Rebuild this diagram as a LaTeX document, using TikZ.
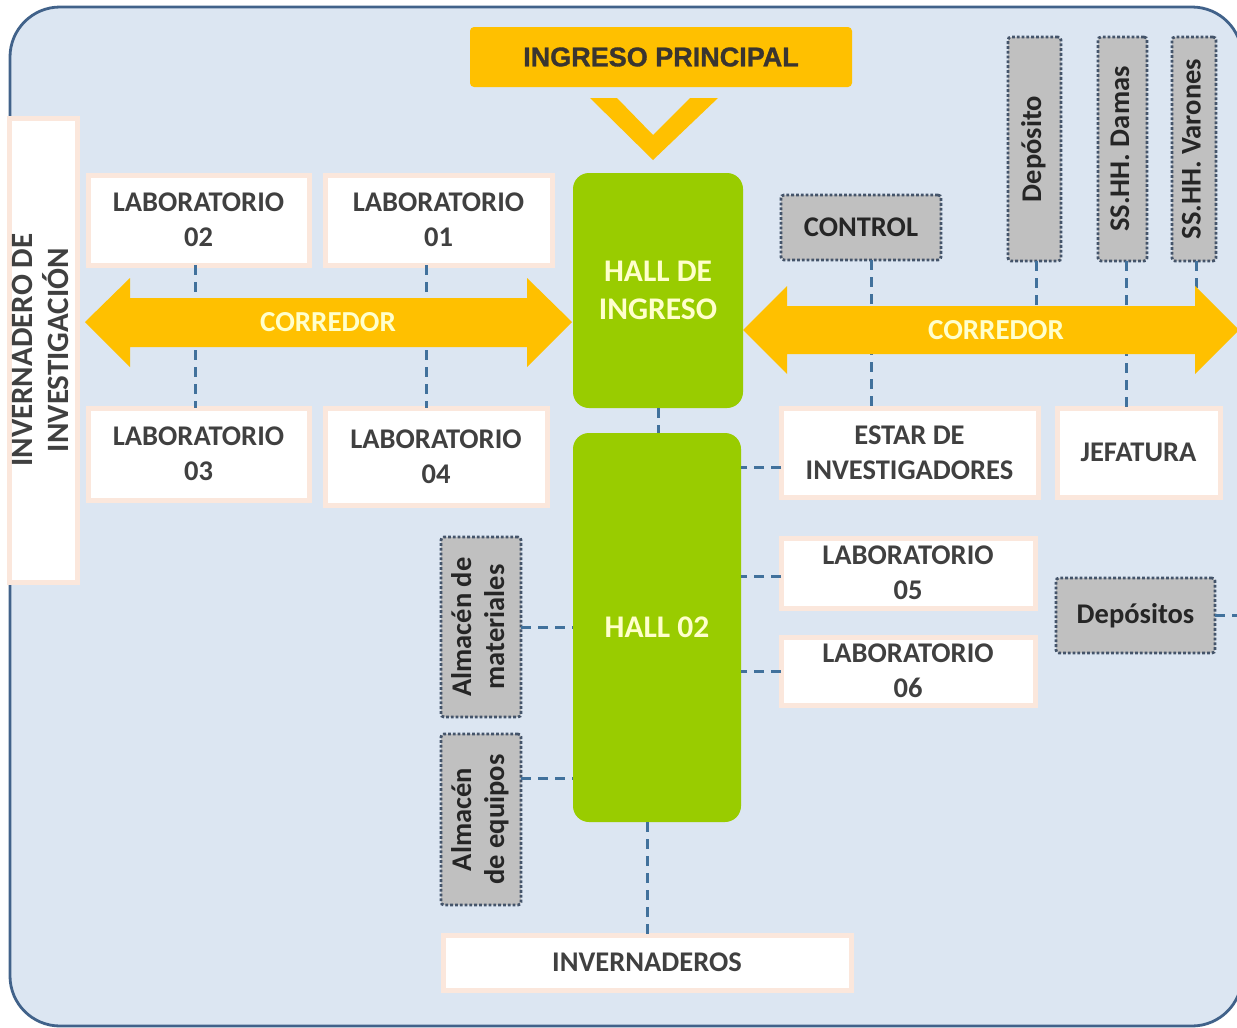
\documentclass[tikz,border=0pt]{standalone}
\usepackage{fontspec}
\usepackage{graphicx}
\setmainfont{Carlito}
\newfontfamily\headfont[BoldFeatures={FakeBold=1.2}]{Liberation Sans}
\definecolor{panel}{HTML}{DCE6F2}
\definecolor{panelline}{HTML}{41628A}
\definecolor{amber}{HTML}{FFC000}
\definecolor{leaf}{HTML}{99CC00}
\definecolor{leaftext}{HTML}{FFFFCC}
\definecolor{peach}{HTML}{FBE7DC}
\definecolor{ink}{HTML}{404040}
\definecolor{darkink}{HTML}{262626}
\definecolor{headink}{HTML}{3A3530}
\definecolor{store}{HTML}{C0C0C0}
\definecolor{slate}{HTML}{44546A}
\definecolor{linkblue}{HTML}{41719C}
\newcommand{\vtext}[1]{\rotatebox{90}{\begin{tabular}{@{}c@{}}#1\end{tabular}}}
\begin{document}
\begin{tikzpicture}[x=1pt,y=-1pt,
  every node/.style={inner sep=0pt, outer sep=0pt},
  frame/.style={fill=panel, draw=panelline, line width=2.8pt, rounded corners=50pt},
  whitebox/.style={fill=white, draw=peach, line width=5pt, text=ink, align=center,
    font=\fontsize{28.5}{35}\selectfont\bfseries},
  storebox/.style={fill=store, draw=slate, line width=2.8pt, dash pattern=on 2.8pt off 2pt,
    rounded corners=3pt, text=darkink, font=\fontsize{28.5}{33}\selectfont\bfseries},
  hallbox/.style={fill=leaf, rounded corners=16pt, text=leaftext, align=center,
    font=\fontsize{31.5}{38}\selectfont\bfseries},
  link/.style={draw=linkblue, line width=3pt, dash pattern=on 10pt off 7pt},
  corridor/.style={fill=amber},
  corrtext/.style={text=leaftext, font=\fontsize{29}{34}\selectfont\bfseries}
]
\useasboundingbox (0,0) rectangle (1237,1028);
\begin{scope}
  \clip (0,0) rectangle (1237,1028);
  \draw[frame] (10,7) rectangle (1242,1026);
\end{scope}

% main entrance and its chevron
\node[fill=amber, rounded corners=4pt, minimum width=382pt, minimum height=60pt,
  text=headink, font=\headfont\fontsize{27}{30}\selectfont\bfseries] (ingreso) at (661,57) {INGRESO PRINCIPAL};
\fill[amber] (590,98) -- (617,98) -- (653,135) -- (690,98) -- (718,98) -- (653,160) -- cycle;

% halls
\node[hallbox, minimum width=170pt, minimum height=235pt] (hall1) at (658,290.5) {HALL DE\\INGRESO};
\node[hallbox, minimum width=168pt, minimum height=389pt] (hall2) at (657,627.5) {HALL 02};

% west wing
\node[whitebox, minimum width=67pt, minimum height=464pt] (greenhouse) at (43.5,350)
  {\fontsize{31}{33}\selectfont\vtext{INVERNADERO DE\\INVESTIGACIÓN}};
\node[whitebox, minimum width=221pt, minimum height=90pt] (lab02) at (198.5,220) {LABORATORIO\\02};
\node[whitebox, minimum width=227pt, minimum height=90pt] (lab01) at (438.5,220) {LABORATORIO\\01};
\node[whitebox, minimum width=221pt, minimum height=92pt] (lab03) at (198.5,454) {LABORATORIO\\03};
\node[whitebox, minimum width=222pt, minimum height=97pt] (lab04) at (436,456.5) {LABORATORIO\\04};

% east wing
\node[storebox, minimum width=160pt, minimum height=65pt] (control) at (861,227.5) {CONTROL};
\node[storebox, minimum width=53pt, minimum height=224pt] (deposito) at (1034.5,149) {\vtext{Depósito}};
\node[storebox, minimum width=49pt, minimum height=224pt] (damas) at (1122.5,149) {\vtext{SS.HH. Damas}};
\node[storebox, minimum width=44pt, minimum height=224pt] (varones) at (1194,149) {\vtext{SS.HH. Varones}};
\node[whitebox, minimum width=257pt, minimum height=89pt] (estar) at (909.5,452.5) {ESTAR DE\\INVESTIGADORES};
\node[whitebox, minimum width=163pt, minimum height=89pt] (jefatura) at (1138.5,452.5) {JEFATURA};
\node[whitebox, minimum width=254pt, minimum height=70pt] (lab05) at (908,573) {LABORATORIO\\05};
\node[whitebox, minimum width=254pt, minimum height=68pt] (lab06) at (908,671) {LABORATORIO\\06};
\node[storebox, minimum width=159pt, minimum height=75pt] (depositos) at (1135.5,615.5) {Depósitos};

% stores and greenhouses around hall 02
\node[storebox, minimum width=80pt, minimum height=180pt] (almmat) at (481,627) {\vtext{Almacén de\\materiales}};
\node[storebox, minimum width=80pt, minimum height=171pt] (almequ) at (481,819.5) {\vtext{Almacén\\de equipos}};
\node[whitebox, minimum width=408pt, minimum height=55pt] (invernaderos) at (647,962.5) {INVERNADEROS};

% corridor axes
\coordinate (corrL) at (328,322);
\coordinate (corrR) at (996,330);

% dashed links
\draw[link] ([xshift=-3pt]lab02.south) -- ([xshift=-3pt]lab02.south |- lab03.north);
\draw[link] ([xshift=-12pt]lab01.south) -- ([xshift=-12pt]lab01.south |- lab04.north);
\draw[link] (hall1.south) -- (hall1.south |- hall2.north);
\draw[link] ([xshift=10pt]control.south) -- ([xshift=10pt]control.south |- estar.north);
\draw[link] ([xshift=1.5pt]deposito.south) -- ([xshift=1.5pt]deposito.south |- corrR);
\draw[link] ([xshift=3.5pt]damas.south) -- ([xshift=3.5pt]damas.south |- jefatura.north);
\draw[link] ([xshift=2pt]varones.south) -- ([xshift=2pt]varones.south |- corrR);
\draw[link] ([yshift=-15pt]estar.west) -- ([yshift=-15pt]estar.west -| hall2.east);
\draw[link] ([yshift=-3pt]lab05.west) -- ([yshift=-3pt]lab05.west -| hall2.east);
\draw[link] (lab06.west) -- (lab06.west -| hall2.east);
\draw[link] (depositos.east) -- ++(25,0);
\draw[link] (almmat.east) -- (almmat.east -| hall2.west);
\draw[link] ([yshift=41.5pt]almequ.east) -- ([yshift=41.5pt]almequ.east -| hall2.west);
\draw[link] (invernaderos.north |- hall2.south) -- (invernaderos.north);

% corridors as double-headed block arrows
\fill[corridor] (85,322) -- (130,278) -- (130,298) -- (527,298) -- (527,278) -- (572,322)
  -- (527,367) -- (527,347) -- (130,347) -- (130,367) -- cycle;
\fill[corridor] (743,330) -- (787,286) -- (787,306) -- (1195,306) -- (1195,286) -- (1239,330)
  -- (1195,374) -- (1195,354) -- (787,354) -- (787,374) -- cycle;
\node[corrtext] (corrLtext) at (corrL) {CORREDOR};
\node[corrtext] (corrRtext) at (corrR) {CORREDOR};
\end{tikzpicture}
\end{document}
